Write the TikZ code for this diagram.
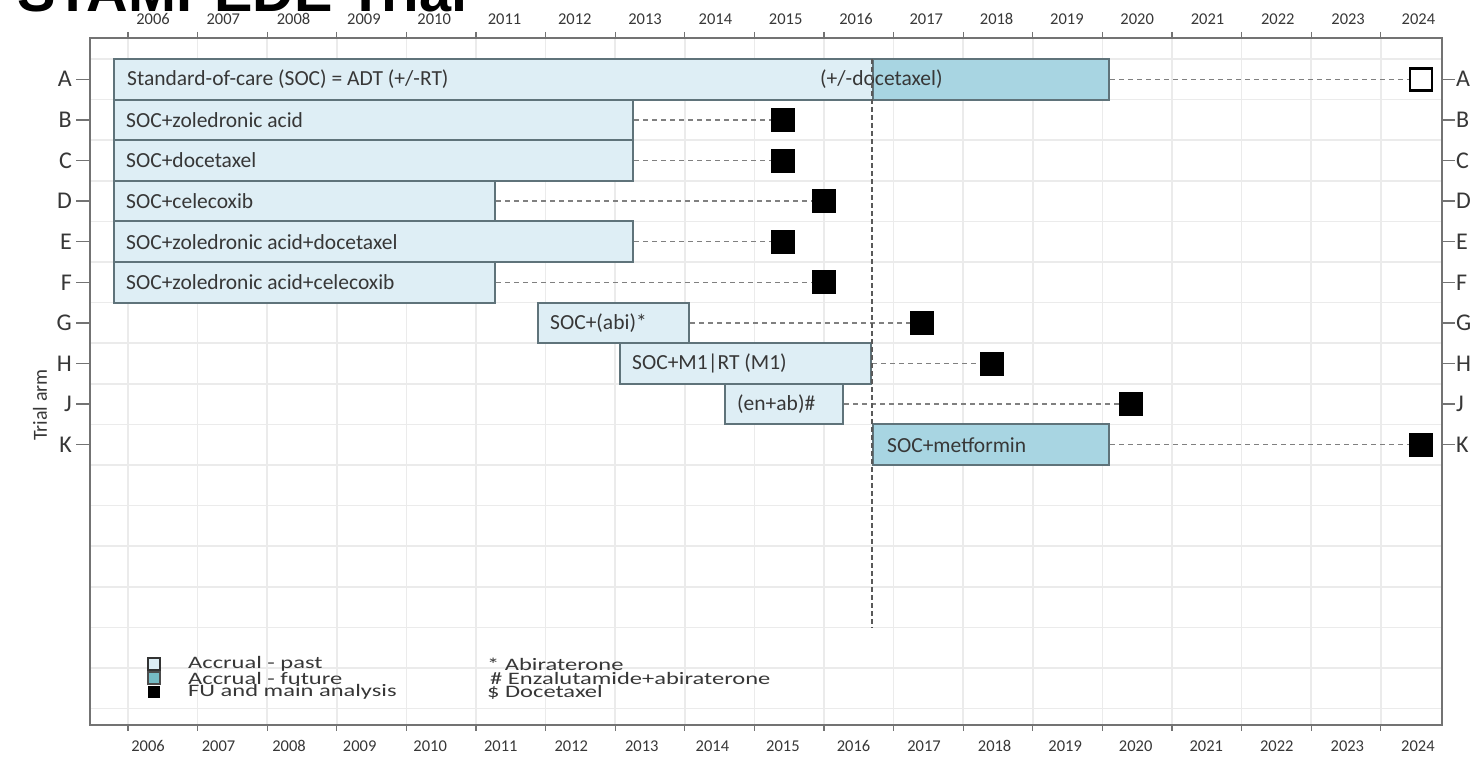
\documentclass[tikz,border=0pt]{standalone}
\usepackage{fontspec}
\setmainfont{Carlito}
\newfontfamily\titlefont{Liberation Sans}
\newfontfamily\legfont[FakeStretch=1.4]{Carlito}
\usetikzlibrary{positioning}

\definecolor{pastfill}{RGB}{222,238,245}
\definecolor{futfill}{RGB}{168,213,226}
\definecolor{barline}{RGB}{95,115,122}
\definecolor{inktext}{RGB}{55,55,55}

\tikzset{
  pastbar/.style={draw=barline, line width=2pt, fill=pastfill, minimum height=40.6pt, inner sep=0pt, anchor=west},
  futbar/.style={pastbar, fill=futfill},
  bartext/.style={font=\fontsize{21.5}{23}\selectfont, text=inktext, inner sep=0pt},
  fubox/.style={fill=black, minimum size=24pt, inner sep=0pt},
  openbox/.style={draw=black, line width=2.5pt, fill=white, minimum size=22pt, inner sep=0pt},
  fuline/.style={draw=gray, dash pattern=on 5pt off 4pt, line width=1.5pt},
  nowline/.style={draw=black!65, dash pattern=on 5pt off 3pt, line width=2pt},
  gridline/.style={draw=black!8, line width=1.5pt},
  axisline/.style={draw=black!55, line width=2pt},
  yearlab/.style={font=\fontsize{16.5}{17}\selectfont, text=inktext, inner sep=0pt, anchor=base},
  armlab/.style={font=\fontsize{24}{26}\selectfont, text=inktext, inner sep=0pt},
  legbox/.style={minimum size=12pt, inner sep=0pt, line width=2pt},
  legtext/.style={font=\legfont\fontsize{17.5}{18}\selectfont, text=inktext, inner sep=0pt, anchor=west}
}

\begin{document}
\begin{tikzpicture}[x=1pt, y=-1pt]
\useasboundingbox (0,0) rectangle (1482,757);

% Title, only its lower edge is on the page
\node[font=\titlefont\bfseries\fontsize{57.6}{60}\selectfont, inner sep=0pt, anchor=base west] (title) at (17,12) {STAMPEDE Trial};

% Grid, ticks and year labels
\foreach \k in {0,...,18}{
  \pgfmathsetmacro\tx{128+69.6*\k}
  \pgfmathtruncatemacro\yr{2006+\k}
  \draw[gridline] (\tx,38) -- (\tx,725);
  \draw[axisline, line width=1.2pt] (\tx,32) -- (\tx,38);
  \draw[axisline, line width=1.2pt] (\tx,725) -- (\tx,731);
  \node[yearlab] (top\yr) at ({153+70.3*\k},24.5) {\yr};
  \node[yearlab] (bot\yr) at ({148+70.55*\k},751) {\yr};
}
\foreach \i in {0,...,16}
  \draw[gridline] (90,{59+40.6*\i}) -- (1442,{59+40.6*\i});

% Frame
\draw[axisline] (90,38) rectangle (1442,725);

% Arm letters on both sides
\foreach \r [count=\i from 0] in {A,B,C,D,E,F,G,H,J,K}{
  \pgfmathsetmacro\ry{79.3+40.6*\i}
  \draw[axisline, line width=1.5pt] (76,\ry) -- (90,\ry);
  \draw[axisline, line width=1.5pt] (1442,\ry) -- (1455,\ry);
  \node[armlab, anchor=east] (left\r) at (72,\ry) {\r};
  \node[armlab, anchor=west] (right\r) at (1456,\ry) {\r};
}
\node[font=\fontsize{20}{22}\selectfont, text=inktext, rotate=90] (axistitle) at (40,405) {Trial arm};

% Standard-of-care arm
\node[pastbar, minimum width=759pt] (barA) at (113,79.3) {};
\node[futbar, minimum width=236pt] (futA) at (872,79.3) {};
\node[bartext, right=14pt of barA.west] (txtA) {Standard-of-care (SOC) = ADT (+/-RT)};
\node[bartext, anchor=west] (docA) at (820,79.3) {(+/-docetaxel)};
\node[openbox] (sqA) at (1421,79.3) {};
\draw[fuline] (futA.east) -- (sqA.west);

% Research arms
\foreach \r/\y/\s/\e/\txt/\q in {
  B/119.9/113/632/{SOC+zoledronic acid}/783,
  C/160.5/113/632/{SOC+docetaxel}/783,
  D/201.1/113/494/{SOC+celecoxib}/824,
  E/241.7/113/632/{SOC+zoledronic acid+docetaxel}/783,
  F/282.3/113/494/{SOC+zoledronic acid+celecoxib}/824,
  G/322.9/537/688/{SOC+(abi)*}/922,
  H/363.5/619/870/{SOC+M1|RT (M1)}/992,
  J/404.1/724/842/{(en+ab)\#}/1131}{
  \node[pastbar, minimum width={(\e-\s)*1pt}] (bar\r) at (\s,\y) {};
  \node[bartext, right=13pt of bar\r.west] (txt\r) {\txt};
  \node[fubox] (sq\r) at (\q,\y) {};
  \draw[fuline] (bar\r.east) -- (sq\r.west);
}

% Metformin arm
\node[futbar, minimum width=236pt] (barK) at (872,444.7) {};
\node[bartext, right=15pt of barK.west] (txtK) {SOC+metformin};
\node[fubox] (sqK) at (1421,444.7) {};
\draw[fuline] (barK.east) -- (sqK.west);

% Line for the present date
\coordinate (nowtop) at (872,59);
\coordinate (nowbot) at (872,628);
\draw[nowline] (nowtop) -- (nowbot);

% Legend
\node[legbox, draw=black!80, fill=pastfill] (legPast) at (154,664) {};
\node[legbox, draw=black!70, fill=futfill!70!teal] (legFut) at (154,678) {};
\node[legbox, fill=black] (legFU) at (154,692) {};
\node[legtext] (legPastText) at (188,664) {Accrual - past};
\node[legtext] (legFutText) at (188,678) {Accrual - future};
\node[legtext] (legFUText) at (188,692) {FU and main analysis};
\node[legtext] (noteAbi) at (487,664) {* Abiraterone};
\node[legtext] (noteEnz) at (490,678) {\# Enzalutamide+abiraterone};
\node[legtext] (noteDoc) at (487,692) {\$ Docetaxel};
\end{tikzpicture}
\end{document}
